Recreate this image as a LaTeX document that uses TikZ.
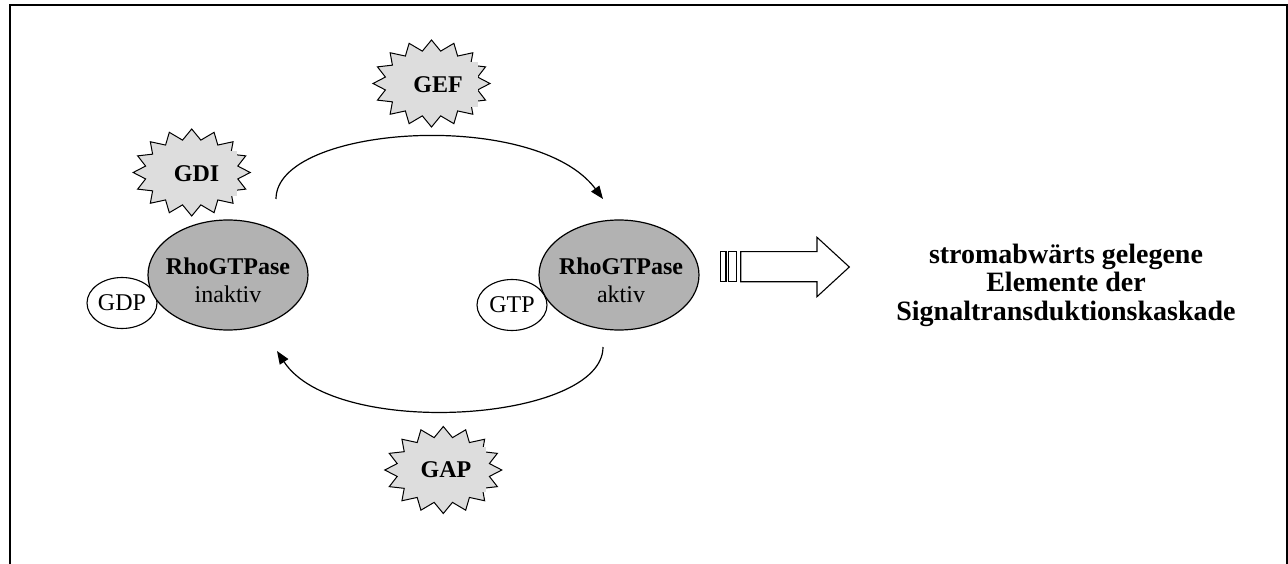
\documentclass[tikz,border=0pt]{standalone}
\usepackage{fontspec}
\setmainfont{Liberation Serif}
\usetikzlibrary{arrows.meta,shapes.geometric}
\definecolor{burstfill}{gray}{0.867}
\definecolor{rhofill}{gray}{0.70}
\begin{document}
\begin{tikzpicture}[x=1pt,y=-1pt,
  burstline/.style={draw=black,line width=1pt,fill=burstfill,line join=miter},
  burst/.pic={\path[burstline] (-11.25:47 and 33) \foreach \k in {0,...,15} { -- ({\k*22.5}:58.5 and 43.5) -- ({\k*22.5+11.25}:47 and 33) } -- cycle;},
  burstlabel/.style={fill=burstfill,inner sep=0pt,minimum width=80pt,minimum height=45pt,font=\bfseries\fontsize{24}{28}\selectfont},
  rho/.style={ellipse,draw=black,line width=1.2pt,fill=rhofill,minimum width=160pt,minimum height=110pt,inner sep=0pt},
  nuc/.style={ellipse,draw=black,line width=1.1pt,fill=white,minimum width=70pt,minimum height=51pt,inner sep=0pt,font=\fontsize{24}{28}\selectfont},
  boldtxt/.style={anchor=base,inner sep=0pt,font=\bfseries\fontsize{24}{28}\selectfont},
  regtxt/.style={anchor=base,inner sep=0pt,font=\fontsize{24}{28}\selectfont},
  outtxt/.style={anchor=base,inner sep=0pt,font=\bfseries\fontsize{28}{30}\selectfont},
  cyc/.style={draw=black,line width=1.2pt,-{Triangle[length=13pt,width=10pt]}},
  frame/.style={draw=black,line width=2pt},
  blockarrow/.style={draw=black,line width=1.1pt,fill=white,line join=miter}
]
\useasboundingbox (0,0) rectangle (1288,564);
% frame (open at the bottom)
\draw[frame] (10,564) -- (10,5.5) -- (1287,5.5) -- (1287,564);

% bursts
\pic at (431.5,83.5) {burst};
\node[burstlabel] (gef) at (438,85) {GEF};
\pic at (191.7,172.5) {burst};
\node[burstlabel] (gdi) at (196.5,173.5) {GDI};
\pic at (443.3,470) {burst};
\node[burstlabel] (gap) at (446,469.5) {GAP};

% nucleotides and GTPases
\node[nuc] (gdp) at (122,303) {GDP};
\node[rho] (inactive) at (228,275) {};
\node[boldtxt] (inactivename) at (228,274) {RhoGTPase};
\node[regtxt] (inactivestate) at (228,302.7) {inaktiv};

\node[nuc] (gtp) at (512,305) {GTP};
\node[rho] (active) at (619,275) {};
\node[boldtxt] (activename) at (621,274) {RhoGTPase};
\node[regtxt] (activestate) at (621,302.7) {aktiv};

% cycle arrows
\coordinate (upstart) at (276,199);
\coordinate (upend) at (603,199);
\coordinate (lowstart) at (603,347);
\coordinate (lowend) at (277,351);
\draw[cyc] (upstart) .. controls (276,125) and (535,108) .. (upend);
\draw[cyc] (lowstart) .. controls (603,422) and (335,440) .. (lowend);

% block arrow
\draw[blockarrow] (720.7,251.7) rectangle (726,281.7);
\draw[blockarrow] (728.7,251.7) rectangle (736.7,281.7);
\draw[blockarrow] (740.7,251.7) -- (817,251.7) -- (817,237.3) -- (849.3,267) -- (817,296.7) -- (817,281.7) -- (740.7,281.7) -- cycle;

% downstream text
\node[outtxt] (down1) at (1066,263) {stromabwärts gelegene};
\node[outtxt] (down2) at (1066,291.5) {Elemente der};
\node[outtxt] (down3) at (1066,320) {Signaltransduktionskaskade};
\end{tikzpicture}
\end{document}
